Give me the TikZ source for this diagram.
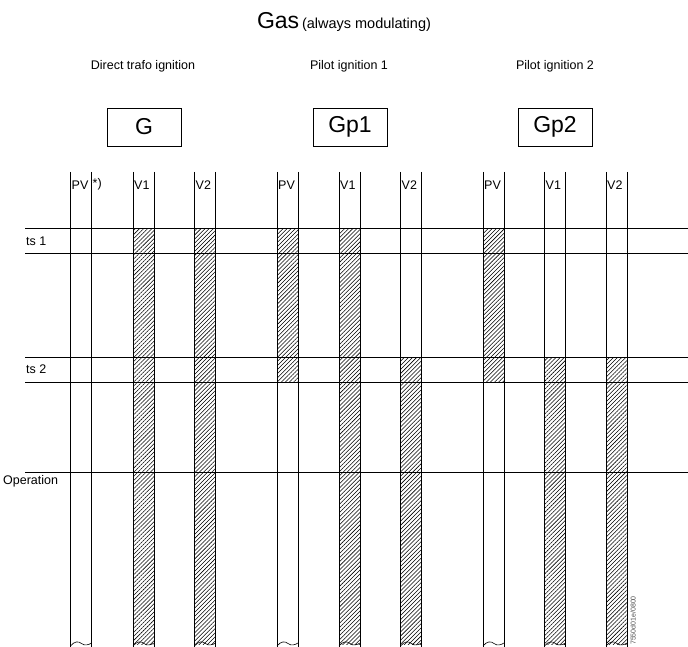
\documentclass[tikz,border=0pt]{standalone}
\usepackage{fontspec}
\setmainfont{Liberation Sans}
\usetikzlibrary{patterns.meta}
\begin{document}
\begin{tikzpicture}[x=1pt,y=-1pt,
  vl/.style={line width=1pt},
  hl/.style={line width=1pt},
  hatch/.style={pattern={Lines[angle=45,distance=2.9pt,line width=0.55pt]}},
  box/.style={draw,line width=0.9pt,minimum width=74pt,minimum height=38pt,inner sep=0pt,font=\fontsize{23}{23}\selectfont},
  subt/.style={font=\fontsize{12.5}{14}\selectfont,inner sep=0pt},
  collab/.style={font=\fontsize{12.5}{14}\selectfont,inner sep=1pt,anchor=west},
  rowlab/.style={font=\fontsize{12.5}{14}\selectfont,inner sep=0pt,anchor=west},
  brk/.style={line width=0.6pt}]
\useasboundingbox (0,0) rectangle (688,647);
% title
\node[inner sep=0pt] (title) at (344,22) {{\fontsize{23}{23}\selectfont Gas} {\fontsize{14.5}{16}\selectfont (always modulating)}};
% subtitles and boxes
\node[subt] (s1) at (143,66) {Direct trafo ignition};
\node[subt] (s2) at (349,66) {Pilot ignition 1};
\node[subt] (s3) at (555,66) {Pilot ignition 2};
\node[box] (G) at (144,127) {G};
\node[box] (Gp1) at (350,127) {Gp1};
\node[box] (Gp2) at (555,127) {Gp2};
% hatched regions
\foreach \x/\a/\b in {133/229/644, 194.5/229/644, 277/229/382, 339/229/644, 400.5/357/644, 483/229/382, 544.5/357/644, 606/357/644}
  \fill[hatch] (\x,\a) rectangle (\x+21,\b);
% horizontal lines
\foreach \y in {229,253,357,382,472}
  \draw[hl] (25,\y) -- (688,\y);
% vertical lines, labels, break marks
\foreach \x/\l [count=\i] in {70.5/PV,133/V1,194.5/V2,277/PV,339/V1,400.5/V2,483/PV,544.5/V1,606/V2}{
  \draw[vl] (\x,172) -- (\x,647);
  \draw[vl] (\x+21,172) -- (\x+21,647);
  \node[collab] (c\i) at (\x,185) {\l};
  \draw[brk] (\x,646) .. controls (\x+4,641) and (\x+8,641) .. (\x+11,643.5) .. controls (\x+14,646) and (\x+18,645) .. (\x+21,643);
}
\node[collab] (star) at (91.5,184) {*)};
% row labels
\node[rowlab] (ts1) at (26,241) {ts 1};
\node[rowlab] (ts2) at (26,369.5) {ts 2};
\node[rowlab] (op) at (3,481) {Operation};
% document code
\node[rotate=90,font=\fontsize{7}{8}\selectfont,inner sep=0pt,anchor=south west,text=black!70] (code) at (636,645) {7550d01e/0800};
\end{tikzpicture}
\end{document}
